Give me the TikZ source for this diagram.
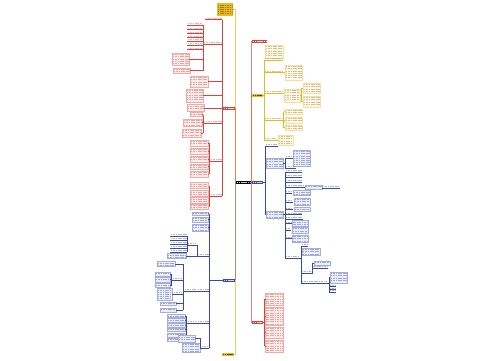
\documentclass[tikz,border=0pt]{standalone}
\definecolor{rd}{HTML}{D9443F}
\definecolor{bl}{HTML}{3949AB}
\definecolor{yl}{HTML}{E8B923}
\definecolor{yt}{HTML}{9A7418}
\definecolor{ink}{HTML}{3A2A00}
\tikzset{
  mainln/.style={line width=0.6pt},
  subln/.style={line width=0.45pt},
  txtln/.style={line width=0.75pt, opacity=0.42, dash pattern=on 1.2pt off 0.5pt},
}
% box with simulated text lines: x1 y1 x2 y2 boxcolor textcolor
\newcommand{\bx}[6]{%
  \filldraw[fill=#5!10, draw=#5!45, line width=0.3pt] (#1,#2) rectangle (#3,#4);
  \pgfmathtruncatemacro{\mynl}{max(1,floor((#4-#2-0.4)/2.2))}%
  \foreach \i in {1,...,\mynl}{%
    \pgfmathsetmacro{\myyy}{#2+0.2+2.2*\i-0.9}%
    \draw[#6, txtln] (#1+0.8,\myyy) -- (#3-0.8,\myyy);}%
}
% filled node: x1 y1 x2 y2 fill text
\newcommand{\fn}[6]{%
  \fill[#5] (#1,#2) rectangle (#3,#4);
  \pgfmathsetmacro{\mymid}{(#2+#4)/2}%
  \draw[#6, line width=0.9pt, opacity=0.8, dash pattern=on 1.3pt off 0.5pt] (#1+1,\mymid) -- (#3-1,\mymid);
}
% underlined text node: x1 y x2 color textcolor
\newcommand{\un}[5]{%
  \draw[#4, subln] (#1,#2) -- (#3,#2);
  \draw[#5, txtln] (#1+0.8,#2-1.3) -- (#3-0.8,#2-1.3);
}
\newcommand{\rb}[4]{\bx{#1}{#2}{#3}{#4}{rd}{rd}}
\newcommand{\bb}[4]{\bx{#1}{#2}{#3}{#4}{bl}{bl}}
\newcommand{\yb}[4]{\bx{#1}{#2}{#3}{#4}{yl}{yt}}
\newcommand{\ru}[3]{\un{#1}{#2}{#3}{rd}{rd}}
\newcommand{\bu}[3]{\un{#1}{#2}{#3}{bl}{bl}}
\newcommand{\yu}[3]{\un{#1}{#2}{#3}{yl}{yt}}
\begin{document}
\begin{tikzpicture}[x=1pt,y=-1pt]
\useasboundingbox (0,0) rectangle (500,360);
\fill[white] (0,0) rectangle (500,360);

% ===== main connectors =====
\draw[yl!70, mainln] (235,182) -- (235,9.5) -- (233,9.5);
\draw[yl!70, mainln] (235,182) -- (235,354.5) -- (234,354.5);
\draw[rd, mainln, opacity=0.5] (235,182) -- (235,108.4);
\draw[bl, mainln, opacity=0.45] (235,182) -- (235,280.2);
\draw[yl!70, mainln] (251,182) -- (251,95) -- (252,95);
\draw[rd, mainln, opacity=0.65] (251,182) -- (251,41.2) -- (252,41.2);
\draw[bl, mainln] (251,182) -- (252,182);
\draw[rd, mainln, opacity=0.65] (251,182) -- (251,322.2) -- (252,322.2);

% top and bottom gold nodes
\fill[yl] (217,3) rectangle (233,16);
\foreach \yy in {5,7.2,9.4,11.6,13.8}{\draw[ink, txtln] (218,\yy) -- (232,\yy);}
\fn{222}{353}{234}{356}{yl}{ink}

% central node
\fn{236}{180.5}{251}{184}{black}{white}

% ===== left red branch =====
\fn{223}{106.5}{235}{110.3}{rd}{white}
\draw[rd, mainln] (222,19.5) -- (222,196);
\ru{205}{19.5}{222}
\ru{203}{44}{222}
\draw[rd, subln] (203,25) -- (203,70.5);
\foreach \yy in {25,29.3,33.3,37.3,41,45,49.3}{\ru{187}{\yy}{203}}
\rb{172}{53}{189}{65} \draw[rd, subln] (189,59) -- (203,59);
\rb{173}{68}{190}{73} \draw[rd, subln] (190,70.5) -- (203,70.5);
\rb{190}{76}{208}{87} \draw[rd, subln] (208,81.5) -- (222,81.5);
\rb{186}{89}{203}{102} \draw[rd, subln] (203,95.5) -- (222,95.5);
\rb{187}{104.5}{204}{111} \draw[rd, subln] (204,108) -- (222,108);
\ru{205}{123}{222}
\draw[rd, subln] (203,114.5) -- (203,133) (203,123) -- (205,123);
\rb{190}{112.5}{202}{116.5} \draw[rd, subln] (202,114.5) -- (203,114.5);
\rb{183}{119}{202}{126} \draw[rd, subln] (202,122.5) -- (203,122.5);
\rb{182}{129}{201}{137} \draw[rd, subln] (201,133) -- (203,133);
\ru{210}{161}{222}
\draw[rd, subln] (209,143) -- (209,174) (209,161) -- (210,161);
\rb{190}{140}{208}{146} \rb{190}{148}{208}{154} \rb{190}{156}{208}{162}
\rb{190}{164}{208}{169} \rb{190}{171}{208}{177}
\foreach \yy in {143,151,159,166.5,174}{\draw[rd, subln] (208,\yy) -- (209,\yy);}
\ru{210}{196}{222}
\draw[rd, subln] (209,185.5) -- (209,206.5) (209,196) -- (210,196);
\rb{190}{182.5}{208}{188.5} \rb{190}{190.5}{208}{196} \rb{190}{197.5}{208}{203} \rb{190}{204}{208}{209}

% ===== left blue branch =====
\fn{223}{278.5}{235}{282}{bl}{white}
\draw[bl, mainln] (209,213.7) -- (209,348) (209,280.2) -- (223,280.2);
\bb{192}{212}{208}{215.5} \bb{192}{217}{208}{222} \bb{192}{224}{208}{231}
\foreach \yy in {213.7,219.5,227.5}{\draw[bl, subln] (208,\yy) -- (209,\yy);}
% N1
\bu{197}{256}{209}
\draw[bl, subln] (197,245) -- (197,256);
\bu{187}{245}{197}
\draw[bl, subln] (187,236) -- (187,252);
\foreach \yy in {236,240,244,248,252}{\bu{170}{\yy}{187}}
\bb{167}{253.5}{186}{258.5} \draw[bl, subln] (186,256) -- (197,256);
% N2
\bu{197}{291}{209}
\bu{184}{291}{197}
\draw[bl, subln] (183,264) -- (183,310);
\bb{157}{261.5}{175}{266.5} \draw[bl, subln] (175,264) -- (183,264);
\bu{172}{280}{183}
\draw[bl, subln] (171,274) -- (171,285.5);
\bb{155}{272}{170}{276} \bb{155}{277.5}{170}{282} \bb{155}{283.5}{170}{287.5}
\foreach \yy in {274,279.7,285.5}{\draw[bl, subln] (170,\yy) -- (171,\yy);}
\bu{173}{294}{183}
\bb{157}{288.5}{172}{300} \draw[bl, subln] (172,294) -- (173,294);
\bb{160}{302}{176}{305.5} \draw[bl, subln] (176,303.7) -- (183,303.7);
\bb{160}{308}{176}{312} \draw[bl, subln] (176,310) -- (183,310);
% N3
\bu{197}{323}{209}
\bu{187}{323}{197}
\draw[bl, subln] (186,316) -- (186,339.5) (186,323) -- (187,323);
\bb{167}{314.5}{185}{317.5} \bb{167}{318.5}{185}{322} \bb{167}{323.5}{185}{327}
\bb{167}{328}{185}{331.5} \bb{167}{333}{185}{337} \bb{167}{338}{185}{341}
\foreach \yy in {316,320.2,325.2,329.7,335,339.5}{\draw[bl, subln] (185,\yy) -- (186,\yy);}
% N4
\bu{201}{348}{209}
\bb{182}{343}{200}{352.5} \draw[bl, subln] (200,348) -- (201,348);
\bb{178}{335.5}{195}{342} \draw[bl, subln] (195,338.7) -- (200.5,338.7) -- (200.5,348);

% ===== right red top =====
\fn{252}{39.5}{267}{43}{rd}{white}

% ===== right yellow branch =====
\fn{252}{93.5}{263}{96.5}{yl}{ink}
\draw[yl, mainln] (264,60) -- (264,140) (263,95) -- (264,95);
\yb{265}{45}{283}{58} \yu{264}{60}{283}
\yu{264}{72.5}{284} \yb{285}{65}{302}{80} \draw[yl, subln] (284,72.5) -- (285,72.5);
\yu{264}{93}{283} \yb{284}{89}{300}{102} \draw[yl, subln] (283,93) -- (284,93);
\draw[yl, subln] (300,95.5) -- (301.5,95.5) (301.5,88) -- (301.5,101.5) (301.5,88) -- (303,88) (301.5,101.5) -- (303,101.5);
\yb{303}{83}{320}{93} \yb{303}{96}{320}{107}
\yu{264}{120}{283}
\draw[yl, subln] (283.5,111.5) -- (283.5,127.5);
\yb{285}{109}{302}{114} \yb{285}{117}{302}{123} \yb{285}{125}{302}{130}
\foreach \yy in {111.5,120,127.5}{\draw[yl, subln] (283.5,\yy) -- (285,\yy);}
\yu{264}{140}{277} \yb{278}{135}{293}{145} \draw[yl, subln] (277,140) -- (278,140);

% ===== right blue branch =====
\fn{252}{180.5}{263}{183.5}{bl}{white}
\draw[bl, mainln] (265,146) -- (265,214.7) (263,182) -- (265,182);
\bu{265}{146}{278}
\bb{266}{158}{283}{168} \draw[bl, subln] (265,163) -- (266,163) (283,163) -- (285,163) (285,158) -- (285,168);
\bu{285}{158}{292} \bb{293}{150}{310}{166.5} \draw[bl, subln] (292,158) -- (293,158);
\bu{285}{168}{296}
\bb{266}{211}{283}{218.5} \draw[bl, subln] (265,214.7) -- (266,214.7) (283,214.7) -- (285,214.7);
\draw[bl, subln] (285,172) -- (285,258);
\bu{285}{172}{302} \bu{285}{177}{302} \bu{285}{182}{302}
\bu{285}{187}{305} \bb{305}{185}{322}{189.5} \bu{322}{188}{340}
\bu{285}{193}{292} \bb{293}{190.5}{310}{195.5}
\bu{285}{202}{293} \bb{294}{198}{310}{205.5}
\bu{285}{209.5}{293} \bb{294}{207.5}{310}{211.5}
\bu{285}{214.7}{302}
\bu{285}{218.8}{303}
\bu{285}{223.5}{292} \bb{292.5}{220.5}{308}{226}
\bu{285}{230}{291} \bb{292}{227.3}{308}{233.3}
\bu{285}{238.5}{292} \bb{292.5}{235}{308}{242}
\bu{285}{258}{300}
\draw[bl, subln] (301,246) -- (301,283) (300,258) -- (301,258);
\bu{301}{246}{308}
\bb{302}{248}{320}{255} \draw[bl, subln] (301,251.5) -- (302,251.5);
\bu{301}{273}{312}
\draw[bl, subln] (312.5,263) -- (312.5,273) (312,273) -- (312.5,273);
\bb{314}{261}{330}{265.5} \draw[bl, subln] (312.5,263) -- (314,263);
\bu{312.5}{268}{328}
\bu{301}{283}{328}
\draw[bl, subln] (329,277.5) -- (329,292) (328,283) -- (329,283);
\bb{330}{272}{347}{283} \draw[bl, subln] (329,277.5) -- (330,277.5);
\bu{329}{286.5}{336} \bu{329}{289.5}{336} \bu{329}{292}{336}

% ===== right red bottom =====
\fn{252}{320.5}{263}{324}{rd}{white}
\draw[rd, mainln] (264.5,299) -- (264.5,346) (263,322.2) -- (264.5,322.2);
\rb{265.5}{293}{283}{305} \rb{265.5}{307}{283}{325} \rb{265.5}{327}{283}{338} \rb{265.5}{340}{283}{352}
\foreach \yy in {299,316,332.5,346}{\draw[rd, subln] (264.5,\yy) -- (265.5,\yy);}
\end{tikzpicture}
\end{document}
